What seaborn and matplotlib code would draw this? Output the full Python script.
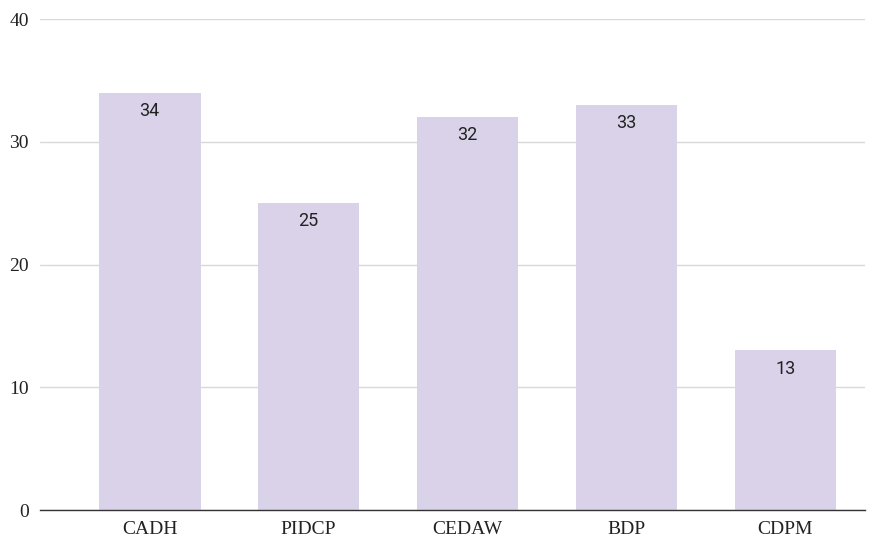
import matplotlib
matplotlib.use("Agg")
import matplotlib.pyplot as plt
import seaborn as sns
import pandas as pd

categories = ["CADH", "PIDCP", "CEDAW", "BDP", "CDPM"]
values = [34, 25, 32, 33, 13]
yticks = [0, 10, 20, 30, 40]

df = pd.DataFrame({"tratado": categories, "valor": values})

sns.set_theme(style="white")
plt.rcParams["font.family"] = ["Liberation Serif", "DejaVu Serif"]

fig = plt.figure(figsize=(8.79, 5.38), dpi=100)
ax = fig.add_axes([0.0455, 0.052, 0.9385, 0.9125])

sns.barplot(data=df, x="tratado", y="valor", color="#d9d2e9", saturation=1,
            width=0.64, linewidth=0, ax=ax, zorder=3)

for i, v in enumerate(values):
    ax.text(i, v - 0.75, str(v), ha="center", va="top", fontsize=13,
            color="#222222", family=["Roboto", "DejaVu Sans"], zorder=4)

ax.set_ylim(0, 40)
ax.set_xlim(-0.69, 4.5)
ax.set_yticks(yticks)
ax.yaxis.grid(True, color="#d9d9d9", linewidth=1, zorder=0)
ax.set_xlabel("")
ax.set_ylabel("")
for s in ["top", "right", "left"]:
    ax.spines[s].set_visible(False)
ax.spines["bottom"].set_color("#333333")
ax.spines["bottom"].set_linewidth(1)
ax.spines["bottom"].set_zorder(5)
ax.tick_params(axis="both", length=0, labelsize=14, colors="#222222")
ax.tick_params(axis="y", pad=8)
ax.tick_params(axis="x", pad=8)

fig.savefig("out.png", dpi=100)
